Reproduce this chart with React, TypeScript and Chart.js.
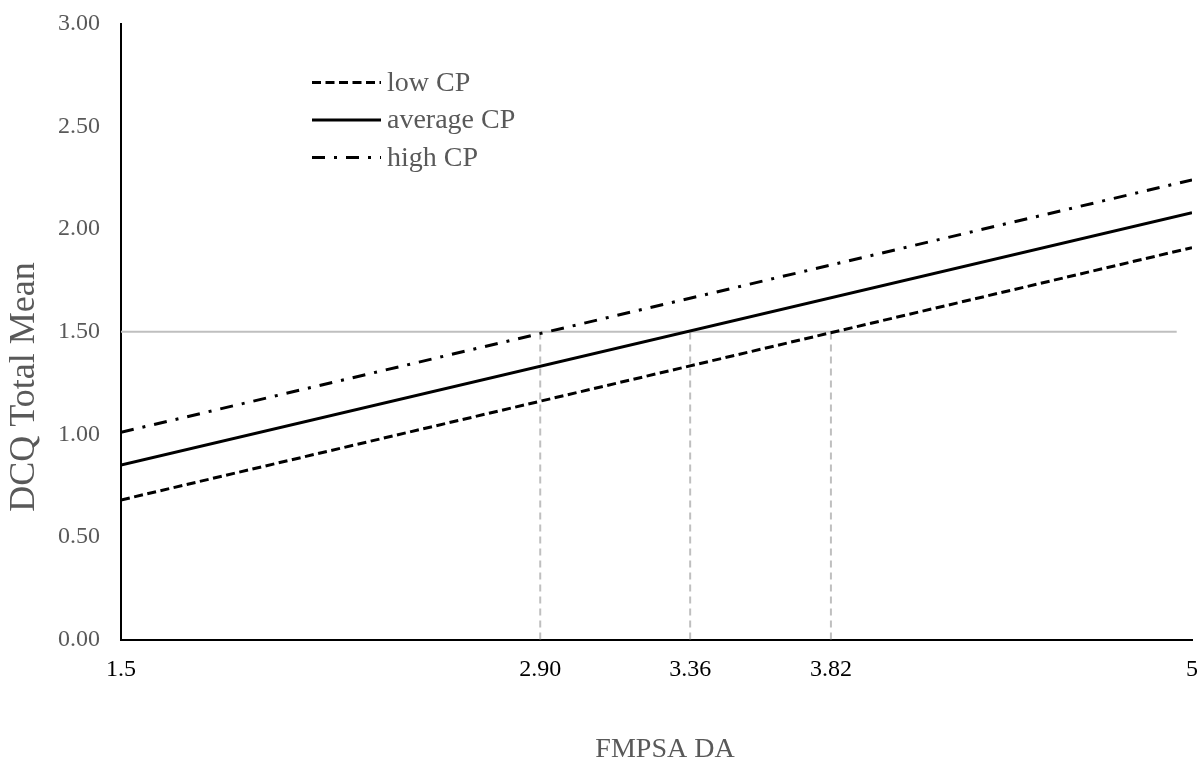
import React, { useEffect, useRef } from "react";
import { Chart, registerables } from "chart.js";

Chart.register(...registerables);

// ---- data ----
const seriesLabels = ["low CP", "average CP", "high CP"];
const xEnds = [1.5, 5];
const lowCP = [0.68, 1.91];
const averageCP = [0.85, 2.08];
const highCP = [1.01, 2.24];

// reference guide lines
const refY = 1.5;
const refLineX = [1.5, 4.95];
const crossX = [2.87, 3.36, 3.82];

// axis ticks
const xTickValues = [1.5, 2.87, 3.36, 3.82, 5];
const xTickLabels = ["1.5", "2.90", "3.36", "3.82", "5"];
const yMin = 0;
const yMax = 3;
const yStep = 0.5;

const xTitle = "FMPSA DA";
const yTitle = "DCQ Total Mean";

const SERIF = "'Liberation Serif', 'Times New Roman', serif";
const TEXT_GREY = "#595959";
const GUIDE_GREY = "#bfbfbf";

const dashes = [[9, 4.5], [], [13, 9, 3, 9]];

const overlayPlugin = {
  id: "overlay",
  afterDraw(chart: any) {
    const ctx = chart.ctx;
    const area = chart.chartArea;
    ctx.save();
    // legend inside plot
    const lx0 = area.left + 191;
    const lx1 = area.left + 260;
    const rows = [82.5, 120, 157.5];
    for (let i = 0; i < 3; i++) {
      const ds = chart.data.datasets[i];
      ctx.beginPath();
      ctx.setLineDash(ds.borderDash || []);
      ctx.lineWidth = 3;
      ctx.strokeStyle = "#000";
      ctx.moveTo(lx0, rows[i]);
      ctx.lineTo(lx1, rows[i]);
      ctx.stroke();
      ctx.setLineDash([]);
      ctx.fillStyle = TEXT_GREY;
      ctx.font = `28px ${SERIF}`;
      ctx.textAlign = "left";
      ctx.textBaseline = "middle";
      ctx.fillText(ds.label, lx1 + 6, rows[i] + 1);
    }
    // axis titles
    ctx.fillStyle = TEXT_GREY;
    ctx.textAlign = "center";
    ctx.textBaseline = "middle";
    ctx.font = `28px ${SERIF}`;
    ctx.fillText(xTitle, 665, 750);
    ctx.translate(25, 387);
    ctx.rotate(-Math.PI / 2);
    ctx.font = `36px ${SERIF}`;
    ctx.fillText(yTitle, 0, 0);
    ctx.restore();
  },
};

export default function App() {
  const ref = useRef<HTMLCanvasElement>(null);

  useEffect(() => {
    if (!ref.current) return;
    const mk = (ys: number[]) => xEnds.map((x, i) => ({ x, y: ys[i] }));
    const dataSets: any[] = [
      { label: seriesLabels[0], data: mk(lowCP), borderDash: dashes[0] },
      { label: seriesLabels[1], data: mk(averageCP), borderDash: dashes[1] },
      { label: seriesLabels[2], data: mk(highCP), borderDash: dashes[2] },
    ].map((d) => ({
      ...d,
      borderColor: "#000",
      borderWidth: 3,
      pointRadius: 0,
      fill: false,
      tension: 0,
    }));
    dataSets.push({
      label: "ref",
      data: refLineX.map((x) => ({ x, y: refY })),
      borderColor: GUIDE_GREY,
      borderWidth: 2,
      pointRadius: 0,
      fill: false,
    });
    crossX.forEach((cx) => {
      dataSets.push({
        label: "cross",
        data: [
          { x: cx, y: yMin },
          { x: cx, y: refY },
        ],
        borderColor: GUIDE_GREY,
        borderWidth: 2,
        borderDash: [7, 5],
        pointRadius: 0,
        fill: false,
      });
    });

    const chart = new Chart(ref.current, {
      type: "line",
      data: { datasets: dataSets },
      plugins: [overlayPlugin],
      options: {
        animation: false,
        responsive: false,
        devicePixelRatio: 1,
        layout: { padding: { top: 24, right: 5, left: 0, bottom: 0 } },
        plugins: {
          legend: { display: false },
          tooltip: { enabled: false },
          title: { display: false },
        },
        scales: {
          x: {
            type: "linear",
            min: xEnds[0],
            max: xEnds[1],
            grid: { display: false, drawTicks: false, tickLength: 0 },
            border: { display: true, color: "#000", width: 2 },
            afterBuildTicks: (scale: any) => {
              scale.ticks = xTickValues.map((v) => ({ value: v }));
            },
            afterFit: (scale: any) => {
              scale.height = 121.5;
              scale.paddingLeft = 0;
              scale.paddingRight = 0;
            },
            ticks: {
              autoSkip: false,
              maxRotation: 0,
              padding: 16,
              color: "#000",
              font: { family: SERIF, size: 24 },
              callback: (_v: any, i: number) => xTickLabels[i],
            },
          },
          y: {
            type: "linear",
            min: yMin,
            max: yMax,
            grid: { display: false, drawTicks: false, tickLength: 0 },
            border: { display: true, color: "#000", width: 2 },
            afterFit: (scale: any) => {
              scale.width = 121;
              scale.paddingTop = 0;
              scale.paddingBottom = 0;
            },
            ticks: {
              stepSize: yStep,
              padding: 21,
              color: TEXT_GREY,
              font: { family: SERIF, size: 24 },
              callback: (v: any) => Number(v).toFixed(2),
            },
          },
        },
      },
    });
    return () => chart.destroy();
  }, []);

  return (
    <div style={{ position: "fixed", left: 0, top: 0, width: 1197, height: 761, background: "#fff" }}>
      <canvas ref={ref} width={1197} height={761} style={{ display: "block" }} />
    </div>
  );
}
